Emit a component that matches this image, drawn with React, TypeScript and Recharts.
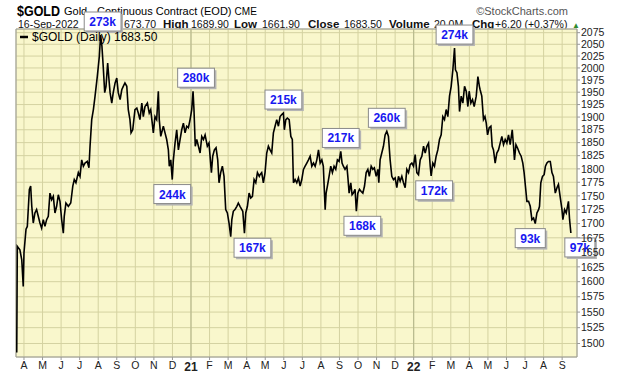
import { ComposedChart, Line, XAxis, YAxis, CartesianGrid, ReferenceDot, ReferenceLine, ReferenceArea } from 'recharts'

// month tick labels, first tick = April 2020
const monthLabels = ['A', 'M', 'J', 'J', 'A', 'S', 'O', 'N', 'D', '21', 'F', 'M', 'A', 'M', 'J', 'J', 'A', 'S', 'O', 'N', 'D', '22', 'F', 'M', 'A', 'M', 'J', 'J', 'A', 'S']
const monthTicks = monthLabels.map((_, i) => i)
const priceTicks = [1500, 1525, 1550, 1575, 1600, 1625, 1650, 1675, 1700, 1725, 1750, 1775, 1800, 1825, 1850, 1875, 1900, 1925, 1950, 1975, 2000, 2025, 2050, 2075]

// [months since 1 Apr 2020, close]
const closes: [number, number][] = [
  [-0.39, 1486], [-0.36, 1660], [-0.22, 1654], [-0.12, 1637], [-0.04, 1592], [0.0, 1649], [0.11, 1690], [0.18, 1695], [0.29, 1762], [0.36, 1768],
  [0.42, 1731], [0.5, 1701], [0.59, 1719], [0.68, 1725], [0.77, 1713], [0.86, 1701], [0.95, 1692], [1.04, 1707], [1.13, 1695], [1.22, 1707],
  [1.31, 1713], [1.4, 1755], [1.49, 1743], [1.58, 1749], [1.67, 1719], [1.76, 1731], [1.85, 1752], [1.94, 1740], [2.03, 1707], [2.12, 1683],
  [2.17, 1713], [2.26, 1737], [2.39, 1731], [2.52, 1737], [2.63, 1768], [2.71, 1780], [2.8, 1774], [2.93, 1793], [3.02, 1786], [3.11, 1817],
  [3.2, 1805], [3.29, 1811], [3.41, 1814], [3.5, 1802], [3.56, 1843], [3.65, 1895], [3.74, 1915], [3.83, 1942], [3.95, 1982], [4.06, 2024],
  [4.13, 2070], [4.2, 2046], [4.27, 2003], [4.35, 1949], [4.42, 1962], [4.51, 2010], [4.58, 1976], [4.64, 1949], [4.73, 1928], [4.81, 1949],
  [4.91, 1969], [5.0, 1979], [5.08, 1949], [5.18, 1935], [5.27, 1955], [5.35, 1962], [5.44, 1969], [5.54, 1962], [5.62, 1915], [5.71, 1895],
  [5.77, 1869], [5.86, 1875], [5.98, 1915], [6.08, 1918], [6.16, 1908], [6.25, 1895], [6.35, 1928], [6.43, 1901], [6.52, 1921], [6.65, 1928],
  [6.75, 1908], [6.83, 1915], [6.97, 1869], [7.06, 1901], [7.15, 1895], [7.24, 1952], [7.29, 1895], [7.37, 1862], [7.46, 1875], [7.51, 1882],
  [7.6, 1869], [7.69, 1856], [7.78, 1836], [7.83, 1805], [7.91, 1817], [7.99, 1780], [8.05, 1817], [8.14, 1849], [8.23, 1875], [8.32, 1836],
  [8.41, 1856], [8.5, 1875], [8.59, 1888], [8.68, 1869], [8.77, 1882], [8.86, 1879], [8.95, 1895], [9.04, 1915], [9.11, 1952], [9.16, 1915],
  [9.23, 1843], [9.31, 1856], [9.4, 1843], [9.49, 1830], [9.58, 1862], [9.67, 1856], [9.76, 1865], [9.88, 1843], [9.97, 1849], [10.1, 1793],
  [10.17, 1824], [10.26, 1836], [10.35, 1840], [10.44, 1817], [10.51, 1774], [10.6, 1793], [10.69, 1805], [10.78, 1786], [10.87, 1725], [10.96, 1719],
  [11.05, 1701], [11.14, 1677], [11.2, 1707], [11.28, 1722], [11.37, 1725], [11.47, 1731], [11.55, 1737], [11.64, 1731], [11.74, 1725], [11.79, 1722],
  [11.88, 1683], [11.95, 1719], [12.04, 1731], [12.13, 1755], [12.22, 1746], [12.31, 1749], [12.4, 1780], [12.49, 1774], [12.58, 1793], [12.68, 1786],
  [12.72, 1789], [12.81, 1793], [12.9, 1774], [12.99, 1793], [13.08, 1830], [13.17, 1843], [13.26, 1836], [13.35, 1830], [13.44, 1869], [13.53, 1882],
  [13.62, 1895], [13.71, 1882], [13.8, 1901], [13.89, 1905], [13.98, 1908], [14.03, 1875], [14.11, 1895], [14.19, 1898], [14.29, 1895], [14.38, 1862],
  [14.46, 1856], [14.52, 1774], [14.61, 1780], [14.7, 1774], [14.79, 1783], [14.88, 1768], [14.97, 1780], [15.06, 1799], [15.15, 1805], [15.24, 1811],
  [15.33, 1817], [15.42, 1824], [15.51, 1805], [15.6, 1811], [15.69, 1805], [15.78, 1817], [15.87, 1836], [15.96, 1811], [16.05, 1817], [16.13, 1805],
  [16.23, 1725], [16.28, 1755], [16.35, 1768], [16.44, 1786], [16.53, 1805], [16.62, 1793], [16.71, 1805], [16.8, 1799], [16.89, 1817], [16.98, 1814],
  [17.07, 1833], [17.14, 1811], [17.21, 1805], [17.3, 1799], [17.4, 1805], [17.45, 1786], [17.52, 1755], [17.61, 1774], [17.68, 1752], [17.75, 1755],
  [17.84, 1762], [17.91, 1722], [17.99, 1755], [18.08, 1762], [18.17, 1758], [18.26, 1755], [18.35, 1768], [18.44, 1793], [18.53, 1799], [18.61, 1786],
  [18.71, 1805], [18.8, 1799], [18.88, 1802], [18.98, 1786], [19.07, 1799], [19.12, 1774], [19.19, 1817], [19.28, 1830], [19.37, 1843], [19.46, 1865],
  [19.55, 1872], [19.64, 1862], [19.73, 1817], [19.82, 1786], [19.91, 1780], [20.0, 1783], [20.09, 1765], [20.18, 1786], [20.27, 1777], [20.36, 1786],
  [20.45, 1774], [20.54, 1765], [20.63, 1799], [20.72, 1793], [20.81, 1808], [20.9, 1811], [20.99, 1805], [21.08, 1827], [21.17, 1793], [21.26, 1789],
  [21.35, 1817], [21.44, 1824], [21.53, 1843], [21.62, 1830], [21.71, 1843], [21.8, 1849], [21.89, 1805], [21.94, 1787], [22.03, 1811], [22.12, 1805],
  [22.21, 1824], [22.3, 1836], [22.39, 1856], [22.48, 1865], [22.57, 1901], [22.66, 1895], [22.75, 1915], [22.84, 1901], [22.93, 1942], [23.02, 1962],
  [23.11, 1996], [23.2, 2042], [23.25, 1996], [23.33, 1990], [23.41, 1962], [23.47, 1911], [23.56, 1942], [23.65, 1928], [23.74, 1962], [23.83, 1952],
  [23.92, 1921], [23.99, 1952], [24.08, 1928], [24.17, 1935], [24.26, 1921], [24.37, 1942], [24.46, 1982], [24.54, 1962], [24.58, 1955], [24.67, 1942],
  [24.76, 1895], [24.84, 1901], [24.91, 1888], [24.98, 1865], [25.07, 1879], [25.16, 1882], [25.23, 1843], [25.3, 1836], [25.39, 1811], [25.48, 1830],
  [25.57, 1836], [25.66, 1849], [25.75, 1862], [25.84, 1846], [25.93, 1856], [26.02, 1849], [26.11, 1865], [26.2, 1846], [26.31, 1875], [26.38, 1843],
  [26.43, 1817], [26.51, 1846], [26.59, 1840], [26.7, 1830], [26.79, 1824], [26.88, 1811], [26.95, 1793], [27.02, 1768], [27.1, 1740], [27.19, 1740],
  [27.28, 1731], [27.37, 1707], [27.46, 1710], [27.55, 1700], [27.64, 1719], [27.73, 1725], [27.78, 1731], [27.85, 1774], [27.94, 1786], [28.03, 1789],
  [28.1, 1805], [28.18, 1811], [28.26, 1814], [28.36, 1814], [28.45, 1793], [28.53, 1786], [28.63, 1755], [28.72, 1765], [28.8, 1771], [28.89, 1749],
  [28.99, 1725], [29.04, 1707], [29.13, 1725], [29.22, 1719], [29.29, 1731], [29.34, 1740], [29.4, 1707], [29.47, 1683.5],
]

// volume call-outs at swing highs / lows
const volumeNotes = [
  { at: 4.13, text: '273k', side: 'up' },
  { at: 7.99, text: '244k', side: 'down' },
  { at: 9.11, text: '280k', side: 'up' },
  { at: 11.88, text: '167k', side: 'down' },
  { at: 13.98, text: '215k', side: 'up' },
  { at: 17.07, text: '217k', side: 'up' },
  { at: 17.91, text: '168k', side: 'down' },
  { at: 19.55, text: '260k', side: 'up' },
  { at: 21.94, text: '172k', side: 'down' },
  { at: 23.2, text: '274k', side: 'up' },
  { at: 27.55, text: '93k', side: 'down' },
  { at: 29.47, text: '97k', side: 'down' },
]

const yearStarts = [9, 21]

const data = closes.map(([m, close]) => ({ m, close }))
const closeAt = (m: number) => (closes.find((c) => c[0] === m) || [m, 0])[1]

// small sideways nudges so boxes clear the line, as on the original
const boxShift: Record<string, number> = { '273k': 2, '167k': 8, '168k': 6, '172k': 3, '93k': -5, '97k': 9, '280k': 3 }

const FONT = '"Liberation Sans", Arial, sans-serif'

const NoteBox = (props: any) => {
  const { cx, cy, text, side } = props
  const w = text.length * 6.7 + 10
  const h = 19
  const x = cx - w / 2 + (boxShift[text] || 0)
  const y = side === 'up' ? cy - 4 - h : cy + 5
  return (
    <g>
      <rect x={x + 2} y={y + 2} width={w} height={h} fill="#b4b4b4" />
      <rect x={x} y={y} width={w} height={h} fill="#fff" stroke="#8a8a8a" />
      <text x={x + w / 2} y={y + 14} textAnchor="middle" fontSize={12} fontWeight="bold" fill="#1818f0" fontFamily={FONT}>
        {text}
      </text>
    </g>
  )
}

const MonthTick = (props: any) => {
  const { x, y, payload } = props
  const label = monthLabels[payload.value]
  const isYear = label.length === 2
  return (
    <text x={x} y={y} dy="0.71em" textAnchor="middle" fontSize={isYear ? 12 : 10.5} fontWeight={isYear ? 'bold' : 'normal'} fill="#222" fontFamily={FONT}>
      {label}
    </text>
  )
}

const App = () => {
  return (
    <div style={{ position: 'relative', width: 620, height: 376, background: '#fff', fontFamily: FONT }}>
      <style>{'body{margin:0}'}</style>
      <svg width={620} height={376} style={{ position: 'absolute', left: 0, top: 0 }}>
        <text x={17} y={16} fontSize={15} fontWeight="bold" textLength={43} lengthAdjust="spacingAndGlyphs" fontFamily={FONT}>$GOLD</text>
        <text x={64} y={15} fontSize={11} fontFamily={FONT}>
          Gold - Continuous Contract (EOD) <tspan fontSize={10}>CME</tspan>
        </text>
        <text x={568} y={15} fontSize={11} textAnchor="end" fill="#555" fontFamily={FONT}>©StockCharts.com</text>
        <g fontSize={10.5} fontFamily={FONT} fill="#111">
          <text x={18} y={28}>16-Sep-2022</text>
          <text x={121} y={28} textAnchor="end" fontSize={9.5}><tspan fontWeight="bold">Open</tspan> 1</text>
          <text x={124} y={28}>673.70</text>
          <text x={163} y={28} fontWeight="bold" fontSize={11.5}>High</text>
          <text x={191} y={28}>1689.90</text>
          <text x={234} y={28} fontWeight="bold" fontSize={11.5}>Low</text>
          <text x={262} y={28}>1661.90</text>
          <text x={308} y={28} fontWeight="bold" fontSize={11.5}>Close</text>
          <text x={344} y={28}>1683.50</text>
          <text x={389} y={28} fontWeight="bold" fontSize={11.5}>Volume</text>
          <text x={434} y={28}>20.0M</text>
          <text x={472} y={28} fontWeight="bold" fontSize={11.5}>Chg</text>
          <text x={495} y={28}>+6.20 (+0.37%)</text>
          <text x={572} y={28} fill="#2e8b2e" fontSize={8}>▲</text>
        </g>
      </svg>
      <div style={{ position: 'absolute', left: 0, top: 0 }}>
        <ComposedChart width={620} height={376} data={data} margin={{ top: 29, right: 0, bottom: 0, left: 16 }}>
          <CartesianGrid fill="#f9f7cc" stroke="#d4d2a1" strokeWidth={1} />
          {yearStarts.map((yx) => (
            <ReferenceLine key={yx} x={yx} stroke="#b3b58a" strokeWidth={1} />
          ))}
          <XAxis
            dataKey="m"
            type="number"
            domain={[-0.43, 29.8]}
            allowDataOverflow
            ticks={monthTicks}
            interval={0}
            height={19}
            tickSize={3}
            tickMargin={2}
            tickLine={{ stroke: '#999' }}
            axisLine={false}
            tick={<MonthTick />}
          />
          <YAxis
            orientation="right"
            scale="log"
            type="number"
            domain={[1479, 2083]}
            allowDataOverflow
            ticks={priceTicks}
            interval={0}
            width={43}
            tickSize={3}
            tickMargin={1}
            tickLine={{ stroke: '#999' }}
            axisLine={false}
            tick={{ fontSize: 10.5, fill: '#222', fontFamily: FONT }}
          />
          <ReferenceArea x1={-0.43} x2={29.8} y1={1479} y2={2083} fill="none" stroke="#9a9a9a" ifOverflow="visible" />
          <Line type="linear" dataKey="close" stroke="#000" strokeWidth={1.6} dot={false} isAnimationActive={false} />
          {volumeNotes.map((n) => (
            <ReferenceDot
              key={n.text}
              x={n.at}
              y={closeAt(n.at)}
              ifOverflow="visible"
              shape={(p: any) => <NoteBox {...p} text={n.text} side={n.side} />}
            />
          ))}
        </ComposedChart>
      </div>
      <svg width={620} height={376} style={{ position: 'absolute', left: 0, top: 0, pointerEvents: 'none' }}>
        <line x1={20} y1={37} x2={28} y2={37} stroke="#000" strokeWidth={2.5} />
        <text x={32} y={41} fontSize={12} fontFamily={FONT} fill="#000">$GOLD (Daily) 1683.50</text>
      </svg>
    </div>
  )
}

export default App
